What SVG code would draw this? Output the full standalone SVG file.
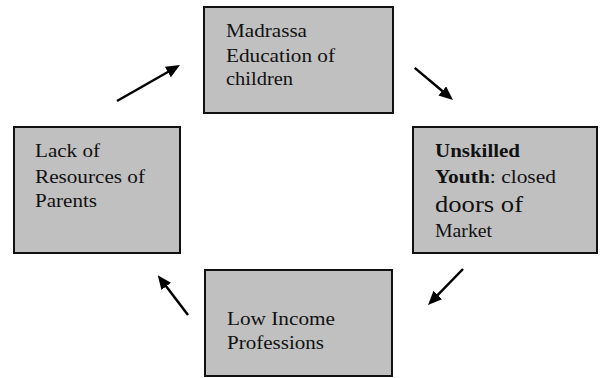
<svg xmlns="http://www.w3.org/2000/svg" width="600" height="378" viewBox="0 0 600 378">
<style>
.box{fill:#c0c0c0;stroke:#111;stroke-width:2}
.t{font-family:"Liberation Serif","Times New Roman",serif;font-size:18px;fill:#111}
.b{font-weight:bold}
.arr{stroke:#000;stroke-width:2.5;fill:none;marker-end:url(#ah)}
</style>
<defs>
<marker id="ah" viewBox="0 0 14 12" refX="2" refY="6" markerWidth="14" markerHeight="12" markerUnits="userSpaceOnUse" orient="auto">
<path d="M0,0 L14,6 L0,12 z" fill="#000"/>
</marker>
</defs>
<rect width="600" height="378" fill="#fff"/>
<g id="madrassa">
<rect class="box" x="204" y="7" width="189" height="106"/>
<text class="t" x="226" y="37" textLength="81" lengthAdjust="spacingAndGlyphs">Madrassa</text>
<text class="t" x="226" y="62" textLength="109" lengthAdjust="spacingAndGlyphs">Education of</text>
<text class="t" x="226" y="85" textLength="67" lengthAdjust="spacingAndGlyphs">children</text>
</g>
<g id="unskilled">
<rect class="box" x="413" y="127" width="184" height="126"/>
<text class="t b" x="435" y="157" textLength="85" lengthAdjust="spacingAndGlyphs">Unskilled</text>
<text class="t" x="435" y="183" textLength="121" lengthAdjust="spacingAndGlyphs"><tspan class="b">Youth</tspan>: closed</text>
<text class="t" x="435" y="212" style="font-size:24px" textLength="88" lengthAdjust="spacingAndGlyphs">doors of</text>
<text class="t" x="435" y="237" textLength="57" lengthAdjust="spacingAndGlyphs">Market</text>
</g>
<g id="lowincome">
<rect class="box" x="205" y="270" width="187" height="106"/>
<text class="t" x="227" y="325" textLength="108" lengthAdjust="spacingAndGlyphs">Low Income</text>
<text class="t" x="227" y="349" textLength="97" lengthAdjust="spacingAndGlyphs">Professions</text>
</g>
<g id="lackresources">
<rect class="box" x="14" y="127" width="166" height="126"/>
<text class="t" x="35" y="157" textLength="65" lengthAdjust="spacingAndGlyphs">Lack of</text>
<text class="t" x="35" y="183" textLength="110" lengthAdjust="spacingAndGlyphs">Resources of</text>
<text class="t" x="35" y="207" textLength="62" lengthAdjust="spacingAndGlyphs">Parents</text>
</g>
<g id="connectors">
<line class="arr" x1="117" y1="101" x2="169.6" y2="71"/>
<line class="arr" x1="414.7" y1="67.9" x2="443.8" y2="92.3"/>
<line class="arr" x1="463" y1="269" x2="436.4" y2="296.4"/>
<line class="arr" x1="188" y1="315" x2="165" y2="284.8"/>
</g>
</svg>
